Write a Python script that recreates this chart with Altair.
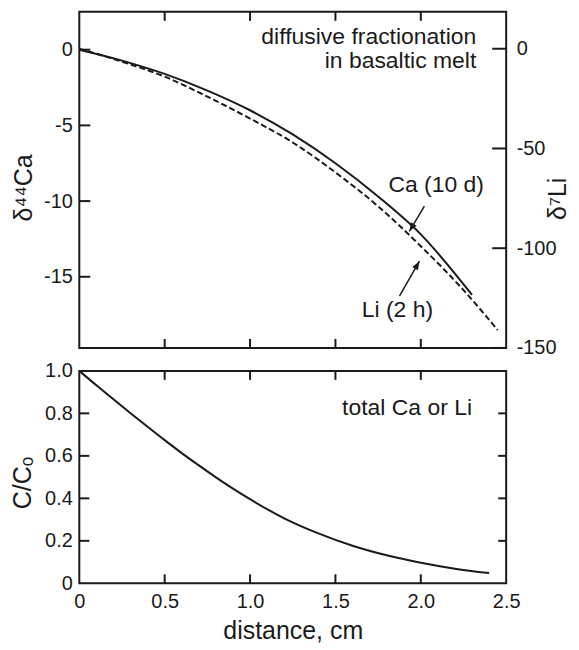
import altair as alt
import pandas as pd

# ---- data ----
dist_ca = [0.0, 0.25, 0.5, 0.75, 1.0, 1.25, 1.5, 1.75, 2.0, 2.3]
d44ca = [0.0, -0.72, -1.6, -2.7, -4.0, -5.6, -7.5, -9.7, -12.2, -16.2]

dist_li = [0.0, 0.25, 0.5, 0.75, 1.0, 1.25, 1.5, 1.75, 2.0, 2.25, 2.45]
d7li = [0, -6.5, -14, -24, -35, -47, -62, -79, -99, -121, -141]

dist_c = [0.0, 0.1, 0.2, 0.3, 0.4, 0.5, 0.6, 0.7, 0.8, 0.9, 1.0, 1.2, 1.4, 1.6, 1.8, 2.0, 2.2, 2.4]
c_ratio = [1.0, 0.932, 0.866, 0.801, 0.737, 0.674, 0.613, 0.555, 0.499, 0.446, 0.396,
           0.306, 0.235, 0.177, 0.132, 0.097, 0.069, 0.048]

x_tick_vals = [0.5, 1.0, 1.5, 2.0]
x_label_vals = [0, 0.5, 1.0, 1.5, 2.0, 2.5]
ca_tick_vals = [0, -5, -10, -15]
li_tick_vals = [0, -50, -100, -150]
c_tick_vals = [0.2, 0.4, 0.6, 0.8]
c_label_vals = [0, 0.2, 0.4, 0.6, 0.8, 1.0]

top_text = ["diffusive fractionation", "in basaltic melt"]
top_text_d = [2.325, 2.325]
top_text_v = [0.85, -0.77]

curve_labels = ["Ca (10 d)", "Li (2 h)"]
curve_label_d = [2.09, 1.863]
curve_label_v = [-8.96, -17.2]

arrow_d = [2.021, 1.875]
arrow_v = [-10.34, -16.27]
arrow_d2 = [1.933, 1.992]
arrow_v2 = [-12.0, -13.97]
arrow_angle = [211, 30]

bottom_text = ["total Ca or Li"]
bottom_text_d = [2.30]
bottom_text_v = [0.825]

INK = "#1a1a1a"
FONT = "Liberation Sans"
W, H1, H2 = 428, 337, 213

xs = alt.Scale(domain=[0, 2.5], nice=False, zero=False)
ys_ca = alt.Scale(domain=[-19.7, 2.5], nice=False, zero=False)
ys_li = alt.Scale(domain=[-150, 18.5], nice=False, zero=False)
ys_c = alt.Scale(domain=[0, 1], nice=False, zero=False)

AX_CA = alt.Axis(
    title="δ⁴⁴Ca", values=ca_tick_vals, ticks=False, domain=False, grid=False,
    labelFlush=False, labelOverlap=False,
    labelExpr="'' + datum.value", labelPadding=7, titleAngle=270,
    titleX=-56, titleY=176, titleBaseline="middle", titleAlign="center")
AX_LI = alt.Axis(
    orient="right", title="δ⁷Li", values=li_tick_vals, ticks=False, domain=False,
    grid=False, labelFlush=False, labelOverlap=False,
    labelExpr="'' + datum.value", labelPadding=10, titleAngle=270,
    titleX=51, titleY=187, titleBaseline="middle", titleAlign="center")
AX_X = alt.Axis(
    title="distance, cm", values=x_label_vals, ticks=False, domain=False, grid=False,
    labelFlush=False, labelOverlap=False,
    labelExpr="datum.value == 0 ? '0' : format(datum.value, '.1f')", labelPadding=8,
    titleY=55, titleBaseline="alphabetic")
AX_C = alt.Axis(
    title="C/Cₒ", values=c_label_vals, ticks=False, domain=False, grid=False,
    labelFlush=False, labelOverlap=False,
    labelExpr="datum.value == 0 ? '0' : format(datum.value, '.1f')", labelPadding=7,
    titleAngle=270, titleX=-57, titleY=112, titleBaseline="middle", titleAlign="center")

df_ca = pd.DataFrame({"d": dist_ca, "v": d44ca})
df_li = pd.DataFrame({"d": dist_li, "v": d7li})
df_c = pd.DataFrame({"d": dist_c, "v": c_ratio})
df_xt = pd.DataFrame({"d": x_tick_vals})
df_cat = pd.DataFrame({"v": ca_tick_vals})
df_lit = pd.DataFrame({"v": li_tick_vals})
df_ct = pd.DataFrame({"v": c_tick_vals})
df_tt = pd.DataFrame({"d": top_text_d, "v": top_text_v, "t": top_text})
df_cl = pd.DataFrame({"d": curve_label_d, "v": curve_label_v, "t": curve_labels})
df_ar = pd.DataFrame({"d": arrow_d, "v": arrow_v, "d2": arrow_d2, "v2": arrow_v2, "a": arrow_angle})
df_bt = pd.DataFrame({"d": bottom_text_d, "v": bottom_text_v, "t": bottom_text})

XT = lambda f="d": alt.X(f"{f}:Q", scale=xs, axis=None)        # top panel x (no axis)
YCa = lambda f="v": alt.Y(f"{f}:Q", scale=ys_ca, axis=AX_CA)
YLi = lambda f="v": alt.Y(f"{f}:Q", scale=ys_li, axis=AX_LI)
XB = lambda f="d": alt.X(f"{f}:Q", scale=xs, axis=AX_X)
YC = lambda f="v": alt.Y(f"{f}:Q", scale=ys_c, axis=AX_C)

# ---------- top panel ----------
ca_line = alt.Chart(df_ca).mark_line(color=INK, strokeWidth=2, interpolate="monotone").encode(
    x=XT(), y=YCa())
ca_ticks = alt.Chart(df_cat).mark_rule(color=INK, strokeWidth=2).encode(
    y=YCa(), x=alt.value(0), x2=alt.value(11))
xt_top = alt.Chart(df_xt).mark_rule(color=INK, strokeWidth=2).encode(
    x=XT(), y=alt.value(0), y2=alt.value(9))
xt_bot = alt.Chart(df_xt).mark_rule(color=INK, strokeWidth=2).encode(
    x=XT(), y=alt.value(H1 - 9), y2=alt.value(H1))
tt = alt.Chart(df_tt).mark_text(align="right", baseline="middle", fontSize=23, color=INK, font=FONT).encode(
    x=XT(), y=YCa(), text="t:N")
cl = alt.Chart(df_cl).mark_text(align="center", baseline="middle", fontSize=23, color=INK, font=FONT).encode(
    x=XT(), y=YCa(), text="t:N")
ar = alt.Chart(df_ar).mark_rule(color=INK, strokeWidth=1.5).encode(
    x=XT(), y=YCa(), x2="d2:Q", y2="v2:Q")
ah = alt.Chart(df_ar).mark_point(shape="M0,0L-0.38,1L0.38,1Z", filled=True, size=300,
                                 color=INK, opacity=1).encode(
    x=XT("d2"), y=YCa("v2"), angle=alt.Angle("a:Q", scale=None))

ca_layer = alt.layer(ca_line, ca_ticks, xt_top, xt_bot, tt, cl, ar, ah)

li_line = alt.Chart(df_li).mark_line(color=INK, strokeWidth=2, strokeDash=[6, 3],
                                     interpolate="monotone").encode(x=XT(), y=YLi())
li_ticks = alt.Chart(df_lit).mark_rule(color=INK, strokeWidth=2).encode(
    y=YLi(), x=alt.value(W - 14), x2=alt.value(W))
li_layer = alt.layer(li_line, li_ticks)

top = alt.layer(ca_layer, li_layer).resolve_scale(y="independent").properties(width=W, height=H1)

# ---------- bottom panel ----------
c_line = alt.Chart(df_c).mark_line(color=INK, strokeWidth=2, interpolate="monotone").encode(
    x=XB(), y=YC())
c_ticks_l = alt.Chart(df_ct).mark_rule(color=INK, strokeWidth=2).encode(
    y=YC(), x=alt.value(0), x2=alt.value(10))
c_ticks_r = alt.Chart(df_ct).mark_rule(color=INK, strokeWidth=2).encode(
    y=YC(), x=alt.value(W - 8), x2=alt.value(W))
xt2_top = alt.Chart(df_xt).mark_rule(color=INK, strokeWidth=2).encode(
    x=XB(), y=alt.value(0), y2=alt.value(9))
xt2_bot = alt.Chart(df_xt).mark_rule(color=INK, strokeWidth=2).encode(
    x=XB(), y=alt.value(H2 - 9), y2=alt.value(H2))
bt = alt.Chart(df_bt).mark_text(align="right", baseline="middle", fontSize=23, color=INK, font=FONT).encode(
    x=XB(), y=YC(), text="t:N")

bottom = alt.layer(c_line, c_ticks_l, c_ticks_r, xt2_top, xt2_bot, bt).properties(width=W, height=H2)

chart = alt.vconcat(top, bottom, spacing=23, bounds="flush").properties(
    padding={"left": 1.5, "top": 1, "right": 0, "bottom": -2}
).configure(font=FONT).configure_view(
    stroke=INK, strokeWidth=2
).configure_axis(
    labelFont=FONT, titleFont=FONT, labelFontSize=20, titleFontSize=25,
    labelColor=INK, titleColor=INK, titleFontWeight="normal"
)

chart.save("out.html", embed_options={"renderer": "svg", "actions": False})
